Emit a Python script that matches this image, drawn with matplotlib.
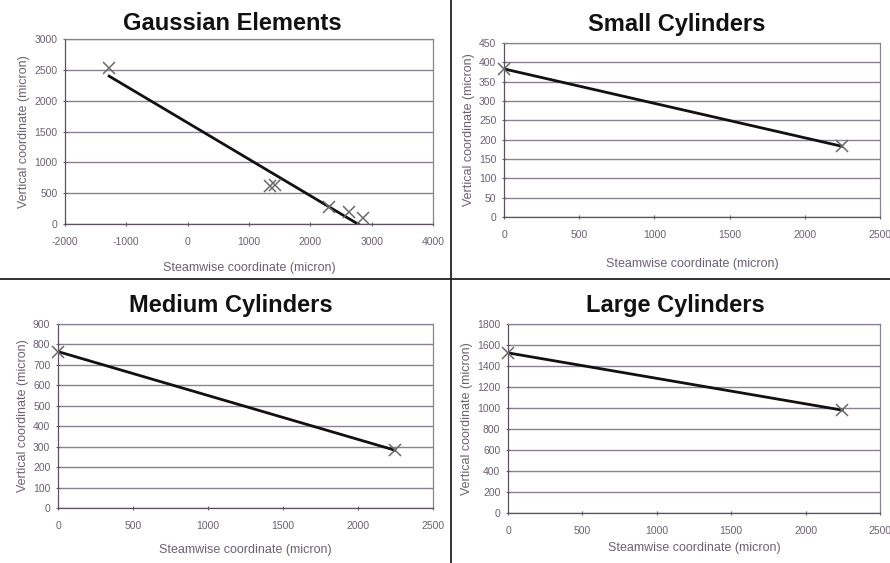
import numpy as np
import matplotlib
matplotlib.use("Agg")
import matplotlib.pyplot as plt
from matplotlib.lines import Line2D

plt.rcParams['font.family'] = ['Liberation Sans', 'DejaVu Sans']
plt.rcParams['axes.unicode_minus'] = False

# ---- data ----
titles = ["Gaussian Elements", "Small Cylinders", "Medium Cylinders", "Large Cylinders"]

gauss_x = [-1280, 1350, 1420, 2300, 2630, 2860]
gauss_y = [2530, 620, 640, 275, 200, 95]

small_x = [0, 2245]
small_y = [383, 183]

medium_x = [0, 2245]
medium_y = [765, 283]

large_x = [0, 2245]
large_y = [1525, 980]

xlims = [(-2000, 4000), (0, 2500), (0, 2500), (0, 2500)]
xticks = [[-2000, -1000, 0, 1000, 2000, 3000, 4000],
          [0, 500, 1000, 1500, 2000, 2500],
          [0, 500, 1000, 1500, 2000, 2500],
          [0, 500, 1000, 1500, 2000, 2500]]
ylims = [(0, 3000), (0, 450), (0, 900), (0, 1800)]
ystep = [500, 50, 100, 200]

xlabel = "Steamwise coordinate (micron)"
ylabel = "Vertical coordinate (micron)"

datasets = [(gauss_x, gauss_y), (small_x, small_y), (medium_x, medium_y), (large_x, large_y)]

W, H = 890, 563
fig = plt.figure(figsize=(W / 100, H / 100), dpi=100)
fig.patch.set_facecolor("white")

# axes boxes in pixels: left, right, top, bottom
boxes = [(65, 433, 39, 224), (504, 880, 43, 217), (58, 433, 324, 508), (508, 880, 324, 513)]
title_pos = [(232, 24), (677, 25), (231, 305), (675, 305)]
xlabel_pad = [11, 13, 9, 4]

label_col = "#6a6270"
grid_col = "#8a8290"

for i, (l, r, t, b) in enumerate(boxes):
    ax = fig.add_axes([l / W, 1 - b / H, (r - l) / W, (b - t) / H])
    xs, ys = datasets[i]
    xs = np.array(xs, float)
    ys = np.array(ys, float)
    # linear trend line (least squares) over the data range
    k, c = np.polyfit(xs, ys, 1)
    xx = np.array([xs.min(), xs.max()])
    ax.plot(xx, k * xx + c, color="#111111", lw=2.0, zorder=3)
    ax.plot(xs, ys, linestyle="none", marker="x", ms=9, mew=1.1, color="#6a6a6a", zorder=4, clip_on=False)

    ax.set_xlim(*xlims[i])
    ax.set_ylim(*ylims[i])
    ax.set_xticks(xticks[i])
    yt = np.arange(ylims[i][0], ylims[i][1] + 1, ystep[i])
    ax.set_yticks(yt)
    ax.yaxis.grid(True, color=grid_col, lw=1.0)
    ax.set_axisbelow(True)
    for s in ax.spines.values():
        s.set_color(grid_col)
        s.set_linewidth(0.9)
    ax.spines["left"].set_color("#5a5260")
    ax.spines["bottom"].set_color("#5a5260")
    ax.tick_params(axis="both", labelsize=7.5, colors=label_col, length=3, width=0.8, direction="inout", pad=4)
    ax.tick_params(axis="x", pad=8)
    ax.set_xlabel(xlabel, fontsize=9, color=label_col, labelpad=xlabel_pad[i])
    ax.set_ylabel(ylabel, fontsize=9, color=label_col, labelpad=3)
    tx, ty = title_pos[i]
    fig.text(tx / W, 1 - ty / H, titles[i],
             ha="center", va="center", fontsize=17, fontweight="bold", color="#111111")

# panel divider lines
fig.add_artist(Line2D([0, 1], [1 - 279 / H, 1 - 279 / H], color="#222222", lw=1.3, transform=fig.transFigure))
fig.add_artist(Line2D([450.5 / W, 450.5 / W], [0, 1], color="#222222", lw=1.3, transform=fig.transFigure))

fig.savefig("out.png", dpi=100, facecolor="white")
